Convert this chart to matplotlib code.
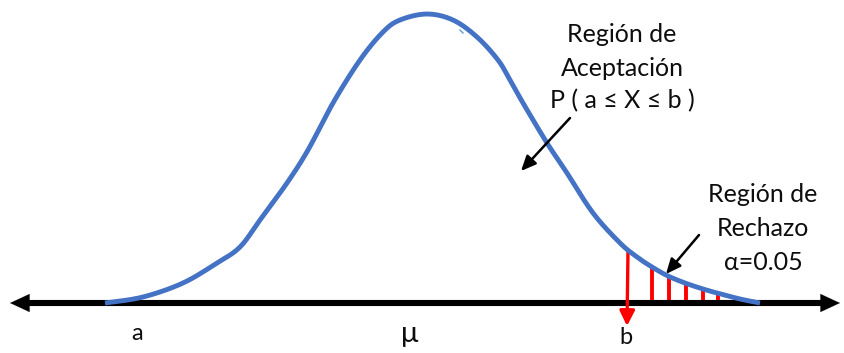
import numpy as np
import matplotlib
matplotlib.use("Agg")
import matplotlib.pyplot as plt

plt.rcParams['font.family'] = ['Lato', 'DejaVu Sans']

# Hand-drawn bell curve (pixel space, y downwards)
curve_x = [105, 143, 183, 217, 240, 260, 287, 308, 333, 360, 383, 400, 427, 453,
           477, 498, 510, 523, 547, 567, 593, 620, 637, 652, 668, 685, 703, 717,
           740, 760]
curve_y = [303, 297, 283, 263, 247, 220, 183, 150, 103, 60, 32, 20, 14, 20,
           37, 60, 80, 103, 143, 173, 213, 243, 257, 267, 276, 283, 289, 293,
           299, 303]

axis_y = 303
axis_left, axis_right = 10, 840

# Rejection region hatch lines
reject_x = [652, 669, 686, 703, 718]
b_x = 628

labels = [("a", 137, 333, 17), ("μ", 410, 334, 21), ("b", 626, 338, 17)]
accept_lines = ["Región de", "Aceptación", "P ( a ≤ X ≤ b )"]
reject_lines = ["Región de", "Rechazo", "α=0.05"]


def smooth(xs, ys, n=12):
    """Catmull-Rom spline through the read points, for a smooth drawn stroke."""
    p = np.column_stack([xs, ys]).astype(float)
    p = np.vstack([p[0], p, p[-1]])
    out = []
    t = np.linspace(0, 1, n, endpoint=False)[:, None]
    for i in range(1, len(p) - 2):
        p0, p1, p2, p3 = p[i - 1], p[i], p[i + 1], p[i + 2]
        seg = 0.5 * ((2 * p1) + (-p0 + p2) * t + (2 * p0 - 5 * p1 + 4 * p2 - p3) * t ** 2
                     + (-p0 + 3 * p1 - 3 * p2 + p3) * t ** 3)
        out.append(seg)
    out.append(p[-2][None, :])
    out = np.vstack(out)
    return out[:, 0], out[:, 1]


fig = plt.figure(figsize=(8.45, 3.53), dpi=100)
ax = fig.add_axes([0, 0, 1, 1])
ax.set_xlim(0, 845)
ax.set_ylim(353, 0)
ax.axis('off')

blue = '#4472C4'
red = '#FF0000'
ink = '#0d0d0d'

# axis with arrows
ax.plot([axis_left + 15, axis_right - 15], [axis_y, axis_y], color='black', lw=4.4,
        solid_capstyle='butt', zorder=2)
for x0, x1 in [(axis_left + 25, axis_left), (axis_right - 25, axis_right)]:
    ax.annotate('', xy=(x1, axis_y), xytext=(x0, axis_y),
                arrowprops=dict(arrowstyle='-|>,head_length=1.4,head_width=0.65',
                                color='black', lw=0.1, shrinkA=0, shrinkB=0), zorder=3)

sx, sy = smooth(curve_x, curve_y)

# red hatch lines
for x in reject_x:
    top = np.interp(x, sx, sy)
    ax.plot([x, x], [top, axis_y - 3], color=red, lw=2.8, zorder=3, solid_capstyle='butt')

# b arrow
b_top = np.interp(b_x, sx, sy)
ax.annotate('', xy=(b_x - 1, 326), xytext=(b_x, b_top),
            arrowprops=dict(arrowstyle='-|>,head_length=0.9,head_width=0.45',
                            color=red, lw=2.4, shrinkA=0, shrinkB=0), zorder=4)

# curve
ax.plot(sx, sy, color=blue, lw=3.5, zorder=4, solid_capstyle='butt',
        solid_joinstyle='round')
ax.plot([460, 463], [30, 33], color='#5B9BD5', lw=1.0, zorder=4)

# labels
for t, x, y, s in labels:
    ax.text(x, y, t, ha='center', va='center', fontsize=s, color=ink)

for i, t in enumerate(accept_lines):
    ax.text(622, 35 + 33 * i, t, ha='center', va='center', fontsize=18, color=ink)
for i, t in enumerate(reject_lines):
    ax.text(763, 195 + 33.5 * i, t, ha='center', va='center', fontsize=18, color=ink)

# pointer arrows
ax.annotate('', xy=(521, 171), xytext=(570, 118),
            arrowprops=dict(arrowstyle='-|>,head_length=0.9,head_width=0.4',
                            color='black', lw=1.8, shrinkA=0, shrinkB=0), zorder=5)
ax.annotate('', xy=(666, 274), xytext=(699, 235),
            arrowprops=dict(arrowstyle='-|>,head_length=0.9,head_width=0.4',
                            color='black', lw=1.8, shrinkA=0, shrinkB=0), zorder=5)

fig.savefig('out.png', dpi=100)
